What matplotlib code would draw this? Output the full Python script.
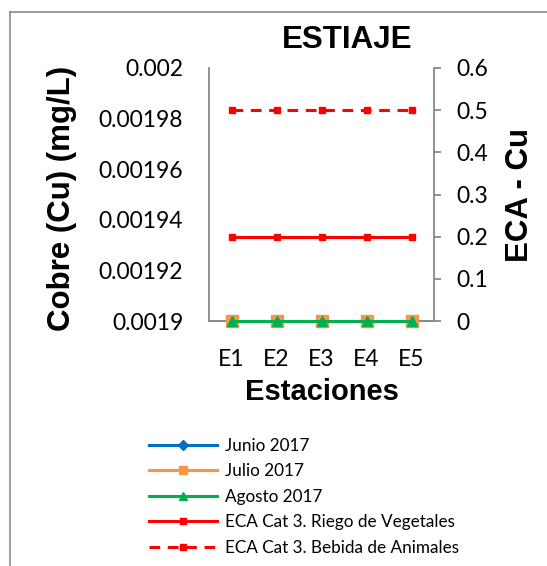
import matplotlib.pyplot as plt
from matplotlib.lines import Line2D

estaciones = ["E1", "E2", "E3", "E4", "E5"]
junio = [0.0019, 0.0019, 0.0019, 0.0019, 0.0019]
julio = [0.0019, 0.0019, 0.0019, 0.0019, 0.0019]
agosto = [0.0019, 0.0019, 0.0019, 0.0019, 0.0019]
eca_riego = [0.2, 0.2, 0.2, 0.2, 0.2]
eca_bebida = [0.5, 0.5, 0.5, 0.5, 0.5]

W, H = 547, 566
fig = plt.figure(figsize=(W / 100, H / 100), dpi=100)
fig.patch.set_facecolor("white")

tick_font = "Lato"
bold_font = "Liberation Sans"
axis_gray = "#898989"

ax = fig.add_axes([209 / W, 1 - 321 / H, 225 / W, 253 / H])
ax2 = ax.twinx()

l1, = ax.plot(estaciones, junio, color="#0070C0", lw=2.2, marker="D", ms=6,
              zorder=3, clip_on=False)
l2, = ax.plot(estaciones, julio, color="#F79646", lw=2.2, marker="s", ms=8,
              zorder=4, clip_on=False)
l3, = ax.plot(estaciones, agosto, color="#00B050", lw=2.2, marker="^", ms=7.5,
              zorder=5, clip_on=False)
l4, = ax2.plot(estaciones, eca_riego, color="#FF0000", lw=2.2, marker="s", ms=5)
l5, = ax2.plot(estaciones, eca_bebida, color="#FF0000", lw=2.2, marker="s", ms=5,
               linestyle=(0, (3.5, 2.5)))

ax.set_xlim(-0.5, 4.5)
ax.set_ylim(0.0019, 0.002)
ax.set_yticks([0.0019, 0.00192, 0.00194, 0.00196, 0.00198, 0.002])
ax.set_yticklabels(["0.0019", "0.00192", "0.00194", "0.00196", "0.00198", "0.002"])
ax2.set_ylim(0, 0.6)
ax2.set_yticks([0, 0.1, 0.2, 0.3, 0.4, 0.5, 0.6])
ax2.set_yticklabels(["0", "0.1", "0.2", "0.3", "0.4", "0.5", "0.6"])

for a in (ax, ax2):
    a.spines["top"].set_visible(False)
    for s in ("left", "right", "bottom"):
        a.spines[s].set_color(axis_gray)
        a.spines[s].set_linewidth(1.3)
    a.set_facecolor("none")
ax.spines["right"].set_visible(False)
ax2.spines["left"].set_visible(False)
ax.set_zorder(2)
ax2.set_zorder(1)

ax.tick_params(axis="y", length=0, pad=18.5, labelsize=16.5)
ax.tick_params(axis="x", length=0, pad=20, labelsize=16.5)
ax2.tick_params(axis="y", length=5, width=1.3, color=axis_gray, direction="out",
                pad=11, labelsize=16.5)
for lab in ax.get_xticklabels() + ax.get_yticklabels() + ax2.get_yticklabels():
    lab.set_fontfamily(tick_font)

# titles and axis labels
fig.text(347 / W, 1 - 48 / H, "ESTIAJE", fontsize=22.5, fontweight="bold",
         family=bold_font, ha="center", va="baseline")
fig.text(62 / W, 1 - 198 / H, "Cobre (Cu) (mg/L)", fontsize=22.5, fontweight="bold",
         family=bold_font, rotation=90, ha="center", va="center")
fig.text(520 / W, 1 - 195 / H, "ECA - Cu", fontsize=22.5, fontweight="bold",
         family=bold_font, rotation=90, ha="center", va="center")
fig.text(322 / W, 1 - 400 / H, "Estaciones", fontsize=21, fontweight="bold",
         family=bold_font, ha="center", va="baseline")

fig.legend([l1, l2, l3, l4, l5],
           ["Junio 2017", "Julio 2017", "Agosto 2017",
            "ECA Cat 3. Riego de Vegetales", "ECA Cat 3. Bebida de Animales"],
           loc="upper left", bbox_to_anchor=(149 / W, 1 - 438 / H),
           frameon=False, prop={"family": tick_font, "size": 12.3},
           handlelength=4.0, handletextpad=0.45, labelspacing=0.55,
           markerscale=0.8, borderpad=0, borderaxespad=0)

# chart area border (left and top edges visible)
fig.add_artist(Line2D([10 / W, 10 / W], [0, 1 - 12 / H], transform=fig.transFigure,
                      color="#8c8c8c", lw=1.2))
fig.add_artist(Line2D([10 / W, 1], [1 - 12 / H, 1 - 12 / H], transform=fig.transFigure,
                      color="#8c8c8c", lw=1.2))

fig.savefig("out.png", dpi=100)
